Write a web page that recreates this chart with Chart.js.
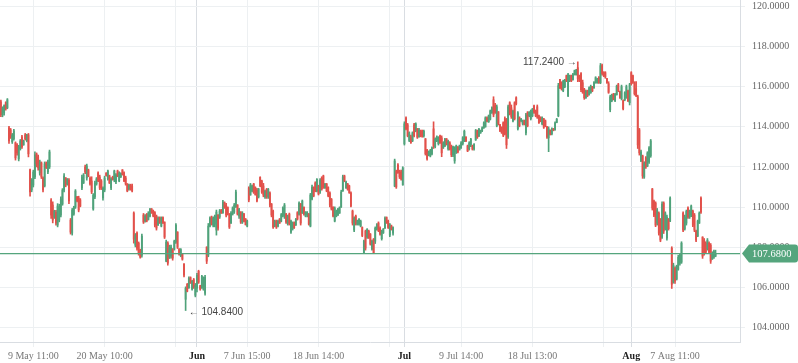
<!DOCTYPE html>
<html>
<head>
<meta charset="utf-8">
<script src="https://cdn.jsdelivr.net/npm/chart.js@4/dist/chart.umd.min.js"></script>
<style>
  html, body { margin: 0; padding: 0; background: #fff; }
  #wrap { width: 798px; height: 363px; }
</style>
</head>
<body>
<div id="wrap"><canvas id="chart"></canvas></div>
<script>
/* ── Data ─────────────────────────────────────────────── */
// one candle per entry: [open, high, low, close]
const ohlc = [
  [115.25,115.33,114.5,114.6],[114.6,115.0,114.5,114.95],[114.7,115.1,114.58,115.05],[115.2,115.25,114.83,114.9],[114.95,115.41,114.9,115.35],
  [113.95,114.03,113.17,113.3],[113.85,113.92,113.42,113.5],[113.25,113.67,113.17,113.6],[113.4,113.87,113.34,113.8],[113.2,113.25,112.34,112.45],
  [113.1,113.17,112.59,112.7],[112.4,113.08,112.3,113.0],[112.9,113.37,112.84,113.3],[113.5,113.58,112.92,113.0],[113.1,113.34,113.08,113.3],
  [113.6,113.67,113.34,113.4],[113.3,113.63,113.25,113.6],[113.6,113.67,112.5,112.65],[111.85,111.89,110.54,110.75],[110.85,111.42,110.76,111.35],
  [111.1,111.84,111.0,111.75],[111.5,112.75,111.42,112.6],[112.65,112.7,112.0,112.15],[112.5,112.59,111.84,111.95],[111.7,112.34,111.59,112.25],
  [112.2,112.25,111.42,111.5],[111.45,111.51,110.76,110.85],[111.05,112.25,111.0,112.15],[112.2,112.25,111.92,111.95],[111.75,112.34,111.67,112.25],
  [112.0,112.84,111.92,112.75],[110.35,110.42,109.43,109.6],[110.1,110.26,109.21,109.35],[109.5,109.84,109.43,109.8],[109.75,109.84,109.1,109.2],
  [109.1,110.17,109.01,110.05],[109.35,110.14,109.26,110.0],[109.6,110.51,109.51,110.4],[110.15,110.92,110.09,110.85],[110.85,111.67,110.76,111.55],
  [111.45,111.47,111.01,111.1],[111.15,111.42,111.09,111.4],[111.35,111.42,110.17,110.3],[109.35,109.43,108.65,108.75],[108.7,109.93,108.6,109.85],
  [109.65,110.04,109.59,110.0],[110.0,110.87,109.93,110.8],[110.5,110.54,110.26,110.3],[110.45,110.54,109.76,109.85],[110.35,110.42,110.01,110.05],
  [110.95,111.59,110.87,111.5],[111.2,111.67,111.17,111.6],[112.0,112.09,111.67,111.75],[111.45,112.14,111.34,112.05],[111.85,111.89,111.51,111.55],
  [111.45,111.51,111.09,111.15],[111.3,111.51,110.67,110.75],[109.9,110.67,109.84,110.6],[110.5,111.29,110.42,111.2],[111.15,111.47,111.09,111.4],
  [111.7,111.76,111.26,111.3],[111.5,111.59,110.87,110.95],[111.3,111.37,110.87,110.95],[110.45,111.01,110.34,110.95],[110.85,111.54,110.76,111.45],
  [111.7,111.71,111.54,111.57],[111.4,111.84,111.34,111.8],[111.55,111.59,111.17,111.2],[110.95,111.47,110.87,111.4],[111.5,111.54,111.34,111.38],
  [111.35,111.84,111.26,111.8],[111.25,111.67,111.17,111.6],[111.8,111.84,111.51,111.55],[111.3,111.76,111.26,111.7],[111.5,111.71,111.47,111.68],
  [111.85,111.87,111.59,111.62],[111.7,111.76,111.26,111.3],[111.45,111.54,111.09,111.15],[111.15,111.17,110.76,110.8],[110.9,111.14,110.84,111.1],
  [111.1,111.14,110.84,110.88],[111.05,111.14,110.76,110.8],[109.7,109.76,108.2,108.4],[108.1,108.68,108.01,108.6],[108.7,108.76,107.85,107.95],
  [108.2,108.26,107.6,107.7],[107.85,107.9,107.45,107.5],[107.6,108.65,107.5,108.55],[109.6,109.68,109.18,109.25],[109.3,109.62,109.25,109.55],
  [109.62,109.68,109.26,109.3],[109.38,109.77,109.35,109.7],[109.55,109.93,109.51,109.88],[109.9,109.93,109.68,109.72],[109.8,109.85,109.51,109.55],
  [109.72,109.77,109.01,109.1],[109.55,109.6,108.85,108.95],[109.1,109.51,109.08,109.45],[109.48,109.51,109.18,109.22],[109.05,109.51,109.01,109.45],
  [109.48,109.51,109.18,109.2],[109.25,109.26,108.43,108.5],[107.3,108.35,107.27,108.25],[108.2,108.27,107.1,107.2],[107.5,108.1,107.43,108.0],
  [107.55,108.1,107.45,108.0],[107.9,107.93,107.35,107.45],[107.9,108.35,107.85,108.3],[108.25,109.18,108.18,109.1],[108.75,108.77,107.93,108.0],
  [107.9,107.93,107.6,107.65],[107.58,107.93,107.52,107.88],[107.66,107.68,107.35,107.4],[107.15,107.18,106.52,106.6],[105.4,106.02,104.84,105.95],
  [106.15,106.19,105.77,105.8],[105.98,106.52,105.94,106.45],[106.48,106.52,106.19,106.22],[105.9,106.35,105.85,106.3],[106.38,106.44,105.94,106.0],
  [105.6,106.19,105.52,106.1],[105.95,106.69,105.77,106.6],[106.8,106.85,106.19,106.25],[106.08,106.1,105.85,105.9],[105.98,106.6,105.94,106.55],
  [105.9,106.52,105.85,106.45],[105.7,106.6,105.6,106.5],[108.0,108.02,107.18,107.3],[107.6,109.18,107.52,109.05],[109.05,109.51,109.01,109.45],
  [109.5,109.55,109.1,109.15],[109.1,109.51,109.01,109.45],[109.15,109.6,109.01,109.55],[108.85,109.85,108.6,109.75],[109.6,109.62,108.85,108.95],
  [109.5,109.88,109.43,109.8],[109.85,109.88,109.68,109.7],[109.72,110.34,109.68,110.25],[110.22,110.26,109.93,109.98],[110.1,110.18,109.51,109.6],
  [109.98,110.01,109.6,109.65],[109.65,109.68,108.93,109.0],[109.2,109.77,109.18,109.7],[109.65,110.01,109.6,109.95],[109.75,110.18,109.68,110.1],
  [110.0,110.84,109.98,110.75],[110.1,110.12,109.6,109.65],[109.55,109.93,109.43,109.88],[109.75,109.77,109.18,109.25],[109.25,109.77,109.18,109.7],
  [109.65,109.68,109.26,109.3],[109.4,109.43,109.1,109.12],[109.05,109.35,109.01,109.3],[110.95,111.01,110.26,110.35],[110.6,111.18,110.59,111.1],
  [110.8,111.09,110.76,111.05],[111.15,111.18,110.68,110.75],[110.98,111.01,110.59,110.62],[110.85,110.93,110.26,110.3],[110.5,110.93,110.45,110.9],
  [111.48,111.51,111.01,111.05],[111.3,111.34,110.68,110.75],[111.05,111.18,110.51,110.6],[110.5,110.84,110.43,110.8],[110.88,110.93,110.43,110.5],
  [110.5,110.93,110.43,110.88],[110.7,110.76,110.01,110.1],[110.15,110.18,109.51,109.6],[109.8,109.85,108.93,109.0],[109.05,109.35,109.01,109.3],
  [109.3,109.35,108.93,109.0],[109.05,109.35,109.01,109.3],[109.4,109.43,109.18,109.2],[109.3,109.68,109.26,109.62],[109.55,110.01,109.51,109.95],
  [109.6,110.18,109.43,110.1],[109.65,109.68,109.18,109.25],[109.2,109.6,109.1,109.55],[109.65,109.7,109.1,109.15],[108.75,109.35,108.68,109.3],
  [108.9,109.26,108.85,109.2],[109.22,109.26,108.93,108.97],[109.1,109.43,109.08,109.4],[109.72,109.77,109.35,109.4],[109.65,110.26,109.6,110.2],
  [110.15,110.18,109.1,109.2],[109.7,110.35,109.68,110.3],[109.98,110.01,109.6,109.65],[109.55,109.77,109.51,109.75],[109.6,109.77,109.51,109.72],
  [109.65,109.68,109.1,109.15],[109.05,110.68,109.01,110.6],[110.4,111.09,110.35,111.0],[110.98,111.01,110.51,110.55],[111.2,111.26,110.76,110.8],
  [110.8,111.42,110.76,111.38],[111.05,111.09,110.6,110.65],[110.75,111.42,110.68,111.35],[111.45,111.51,110.84,110.9],[111.55,111.59,110.93,111.0],
  [110.95,111.18,110.93,111.15],[111.15,111.18,110.76,110.8],[110.98,111.01,110.51,110.55],[110.7,110.76,110.01,110.1],[110.38,110.43,109.85,109.9],
  [110.0,110.01,109.51,109.55],[109.3,110.01,109.26,109.95],[109.55,109.85,109.51,109.8],[109.6,109.93,109.58,109.9],[109.7,110.01,109.68,109.98],
  [110.0,110.84,109.98,110.75],[110.8,111.59,110.78,111.5],[111.55,111.59,111.26,111.3],[110.95,111.3,110.93,111.25],[111.15,111.18,110.84,110.88],
  [111.05,111.09,110.68,110.72],[110.7,110.76,110.01,110.05],[109.8,109.85,109.1,109.2],[108.85,109.51,108.77,109.45],[109.55,109.6,109.1,109.15],
  [109.12,109.35,109.1,109.32],[109.15,109.43,109.1,109.4],[109.05,109.35,109.01,109.3],[108.98,109.01,108.52,108.58],[107.72,108.35,107.68,108.3],
  [108.8,108.85,107.85,107.95],[108.5,108.93,108.43,108.88],[108.8,108.85,108.43,108.48],[108.65,108.68,108.1,108.15],[107.9,108.35,107.85,108.3],
  [108.4,108.43,107.68,107.72],[108.3,109.01,108.18,108.95],[108.9,109.18,108.85,109.12],[109.2,109.26,108.77,108.82],[108.95,109.01,108.6,108.65],
  [108.42,108.85,108.35,108.8],[108.72,108.93,108.68,108.9],[108.95,109.51,108.93,109.45],[109.48,109.51,109.18,109.22],[109.3,109.35,108.93,108.98],
  [108.6,109.18,108.52,109.12],[109.05,109.1,108.85,108.88],[108.7,109.01,108.6,108.98],[111.05,112.39,111.01,112.3],[111.8,111.84,110.93,111.0],
  [112.1,112.17,111.68,111.72],[111.8,111.84,111.42,111.5],[111.75,111.84,111.34,111.4],[111.1,112.01,111.09,111.95],[113.15,114.25,113.09,114.15],
  [114.45,114.5,113.84,113.9],[114.1,114.17,113.5,113.55],[113.32,113.75,113.26,113.7],[113.5,113.59,113.17,113.22],[113.3,113.75,113.26,113.7],
  [114.1,114.17,113.5,113.55],[113.8,114.2,113.75,114.15],[113.9,113.92,113.42,113.48],[113.5,113.92,113.48,113.85],[113.8,113.84,113.5,113.55],
  [113.8,113.84,113.48,113.52],[113.55,113.84,113.48,113.78],[113.4,113.42,112.59,112.65],[112.85,112.88,112.34,112.4],[112.6,112.8,112.55,112.75],
  [112.55,112.88,112.5,112.82],[112.65,113.0,112.6,112.95],[113.9,114.25,112.92,113.05],[113.0,113.45,112.95,113.4],[113.3,113.55,113.26,113.5],
  [113.15,113.51,113.09,113.45],[113.55,113.59,113.17,113.2],[113.45,113.55,112.51,112.7],[112.95,113.26,112.92,113.2],[113.05,113.42,113.01,113.38],
  [113.4,113.42,113.09,113.12],[112.9,113.34,112.84,113.28],[113.2,113.26,112.84,112.9],[113.0,113.09,112.51,112.6],[112.6,113.04,112.51,113.0],
  [112.3,113.01,112.18,112.95],[112.75,113.09,112.67,113.05],[113.0,113.01,112.7,112.75],[112.85,113.09,112.84,113.05],[112.95,113.26,112.92,113.2],
  [113.15,113.51,113.09,113.45],[113.3,113.84,113.26,113.78],[113.48,113.51,113.26,113.3],[113.05,113.09,112.76,112.8],[112.9,113.26,112.84,113.2],
  [113.1,113.42,113.01,113.38],[113.05,113.09,112.84,112.88],[112.9,113.17,112.84,113.12],[113.35,113.87,113.32,113.82],[113.8,113.84,113.42,113.48],
  [113.55,113.92,113.51,113.88],[113.7,113.84,113.67,113.8],[113.8,114.0,113.76,113.95],[113.95,114.25,113.92,114.2],[114.0,114.5,113.98,114.45],
  [114.45,114.5,114.25,114.28],[114.25,114.59,114.22,114.55],[114.38,114.84,114.34,114.8],[114.7,115.0,114.67,114.95],[115.35,115.5,114.5,114.6],
  [115.05,115.17,114.67,114.72],[114.05,115.09,114.0,115.0],[114.75,114.76,114.09,114.15],[114.1,114.12,113.76,113.8],[113.98,114.0,113.67,113.72],
  [114.2,114.25,113.51,113.58],[114.4,114.5,113.59,113.65],[114.3,114.42,112.92,113.1],[113.5,115.09,113.42,115.0],[115.2,115.25,114.59,114.65],
  [114.95,115.09,114.42,114.5],[114.3,114.84,114.25,114.78],[115.2,115.25,114.34,114.4],[115.45,115.5,115.09,115.15],[113.9,114.76,113.84,114.7],
  [114.45,114.5,114.0,114.05],[114.3,114.42,114.25,114.38],[114.15,114.34,114.09,114.3],[114.3,114.34,114.09,114.12],[113.7,114.67,113.59,114.6],
  [114.7,114.76,114.0,114.05],[114.55,114.76,114.5,114.72],[114.4,114.84,114.34,114.8],[114.55,114.92,114.5,114.88],[115.05,115.09,114.67,114.72],
  [114.8,114.84,114.5,114.55],[115.0,115.09,114.42,114.48],[114.55,114.59,114.17,114.2],[114.48,114.5,114.25,114.28],[114.15,114.5,114.09,114.45],
  [114.4,114.42,113.92,113.98],[114.3,114.34,114.0,114.05],[114.0,114.02,113.42,113.48],[113.45,114.0,112.76,113.9],[113.82,113.85,113.59,113.62],
  [113.65,113.95,113.6,113.9],[113.9,113.92,113.8,113.84],[113.85,114.25,113.83,114.2],[114.22,114.42,114.2,114.38],[114.55,116.17,114.5,116.05],
  [116.35,116.37,115.9,115.95],[116.2,116.25,115.83,115.88],[115.8,116.33,115.75,116.28],[116.0,116.37,115.95,116.3],[116.55,116.58,116.25,116.3],
  [115.55,116.67,115.5,116.6],[116.3,116.58,116.25,116.55],[116.55,116.58,116.25,116.3],[116.35,116.67,116.33,116.62],[116.6,116.83,116.58,116.8],
  [116.6,116.87,116.58,116.82],[116.95,117.24,116.25,116.4],[116.55,116.58,116.25,116.3],[116.65,116.7,115.75,115.85],[116.2,116.33,115.67,115.72],
  [115.88,115.92,115.37,115.45],[115.45,115.83,115.42,115.78],[115.8,115.83,115.5,115.55],[115.6,116.0,115.58,115.95],[115.7,116.08,115.67,116.02],
  [116.0,116.02,115.75,115.8],[115.95,116.25,115.92,116.2],[116.2,116.5,116.17,116.45],[116.2,116.42,116.17,116.38],[116.45,116.5,116.17,116.2],
  [116.2,117.16,116.15,117.05],[117.05,117.13,116.58,116.65],[116.72,116.75,116.5,116.55],[116.7,116.75,116.42,116.48],[116.4,116.42,116.17,116.2],
  [116.15,116.25,115.67,115.72],[114.85,115.58,114.75,115.5],[115.3,115.63,115.25,115.58],[115.62,115.67,115.34,115.38],[115.3,115.67,115.25,115.62],
  [115.6,116.08,115.58,116.02],[116.1,116.17,115.75,115.8],[115.75,115.78,115.42,115.45],[115.4,116.08,115.34,116.0],[115.3,115.34,114.84,114.9],
  [115.35,115.75,115.3,115.7],[115.45,116.08,115.42,116.0],[115.8,115.83,115.25,115.3],[115.2,116.17,115.09,116.1],[116.7,116.75,116.08,116.15],
  [116.55,116.58,116.17,116.22],[116.2,116.25,115.58,115.65],[115.9,116.25,115.5,115.55],[115.5,115.58,112.92,113.1],[113.85,113.92,112.59,112.7],
  [112.3,112.84,112.26,112.75],[112.55,112.59,111.43,111.55],[111.5,112.26,111.43,112.2],[112.45,112.51,111.93,112.0],[112.05,112.76,112.01,112.7],
  [112.25,113.01,112.18,112.95],[112.55,113.37,112.48,113.3],[110.9,110.93,109.85,109.95],[110.3,110.35,109.52,109.6],[110.2,110.26,109.02,109.1],
  [109.2,109.93,109.1,109.85],[109.7,109.76,108.6,108.7],[109.35,109.43,108.27,108.35],[108.5,110.26,108.43,110.15],[110.2,110.26,108.68,108.8],
  [108.9,109.76,108.85,109.7],[108.45,109.6,108.35,109.5],[109.4,109.43,108.85,108.92],[109.3,110.51,109.27,110.45],[107.95,108.02,105.94,106.15],
  [106.25,107.2,106.2,107.1],[106.95,107.02,106.19,106.3],[106.4,107.1,106.36,107.05],[106.9,107.6,106.85,107.5],[107.2,107.69,107.1,107.62],
  [107.25,108.27,107.19,108.2],[109.7,109.76,108.77,108.85],[108.9,109.6,108.85,109.5],[109.2,109.85,109.1,109.78],[109.95,110.01,109.43,109.5],
  [109.5,109.85,109.43,109.8],[109.6,110.1,109.52,110.05],[109.8,109.85,109.02,109.1],[109.6,109.68,108.77,108.85],[108.8,108.85,108.27,108.35],
  [108.55,109.35,108.52,109.3],[109.2,109.76,109.18,109.7],[110.45,110.51,109.68,109.75],[108.5,108.52,107.44,107.55],[108.35,108.43,107.6,107.7],
  [108.2,108.27,107.69,107.75],[107.9,108.43,107.85,108.35],[108.2,108.27,107.69,107.75],[108.1,108.18,107.19,107.3],[107.4,107.77,107.39,107.7],
  [107.5,107.85,107.44,107.78],[107.55,107.85,107.52,107.68]
];

// bottom axis: candle index of each tick and its label
const tickIndex  = [20, 64, 108, 121, 152, 196, 240, 249, 284, 328, 372, 389, 416];
const tickLabels = ['9 May 11:00', '20 May 10:00', '', 'Jun', '7 Jun 15:00', '18 Jun 14:00', '', 'Jul',
                    '9 Jul 14:00', '18 Jul 13:00', '', 'Aug', '7 Aug 11:00'];
const monthTicks = ['Jun', 'Jul', 'Aug'];

const priceTicks = [104, 106, 108, 110, 112, 114, 116, 118, 120];
const lastPrice  = 107.68;

/* ── Style ────────────────────────────────────────────── */
const UP    = '#4fa27a';
const DOWN  = '#e2504a';
const TAG   = '#55a57d';
const GRID  = '#edf0f2';
const GRID2 = '#d9dde2';
const SERIF = "'Liberation Serif', 'DejaVu Serif', serif";
const SANS  = "'Liberation Sans', Arial, sans-serif";

const isMonth = i => monthTicks.includes(tickLabels[i]);
const colors  = ohlc.map(c => c[3] >= c[0] ? UP : DOWN);

/* ── Markers + last price tag ─────────────────────────── */
const overlay = {
  id: 'overlay',
  afterDatasetsDraw(chart) {
    const { ctx, scales: { x, y } } = chart;
    let hi = 0, lo = 0;
    ohlc.forEach((c, i) => {
      if (c[1] > ohlc[hi][1]) hi = i;
      if (c[2] < ohlc[lo][2]) lo = i;
    });
    ctx.save();
    ctx.font = '10px ' + SANS;
    ctx.fillStyle = '#444';
    ctx.textBaseline = 'middle';
    ctx.textAlign = 'right';
    ctx.fillText(ohlc[hi][1].toFixed(4) + ' \u2192', x.getPixelForValue(hi) - 1, y.getPixelForValue(ohlc[hi][1]));
    ctx.textAlign = 'left';
    ctx.fillText('\u2190 ' + ohlc[lo][2].toFixed(4), x.getPixelForValue(lo) + 3, y.getPixelForValue(ohlc[lo][2]) + 1.5);
    ctx.restore();
  },
  afterDraw(chart) {
    const { ctx, chartArea, scales: { y } } = chart;
    const py = y.getPixelForValue(lastPrice);
    const l = chartArea.right + 2, r = chart.width, h = 9, rad = 3;
    ctx.save();
    ctx.fillStyle = TAG;
    ctx.beginPath();
    ctx.moveTo(l, py);
    ctx.lineTo(l + 7, py - h);
    ctx.lineTo(r - rad, py - h);
    ctx.arcTo(r, py - h, r, py - h + rad, rad);
    ctx.lineTo(r, py + h - rad);
    ctx.arcTo(r, py + h, r - rad, py + h, rad);
    ctx.lineTo(l + 7, py + h);
    ctx.closePath();
    ctx.fill();
    ctx.fillStyle = '#fff';
    ctx.font = '10.5px ' + SERIF;
    ctx.textBaseline = 'middle';
    ctx.fillText(lastPrice.toFixed(4), chartArea.right + 12, py + 0.5);
    ctx.restore();
  }
};

/* ── Chart ────────────────────────────────────────────── */
new Chart(document.getElementById('chart'), {
  type: 'bar',
  data: {
    datasets: [
      {
        type: 'line',
        data: [{ x: -0.55, y: lastPrice }, { x: 456.1, y: lastPrice }],
        borderColor: TAG,
        borderWidth: 1.2,
        pointRadius: 0,
      },
      {
        data: ohlc.map((c, i) => ({ x: i, y: [c[0], c[3]] })),
        backgroundColor: colors,
        barThickness: 1.2,
        minBarLength: 1,
        grouped: false,
      },
      {
        data: ohlc.map((c, i) => ({ x: i, y: [c[2], c[1]] })),
        backgroundColor: colors,
        barThickness: 1,
        grouped: false,
      }
    ]
  },
  options: {
    responsive: true,
    maintainAspectRatio: false,
    animation: false,
    layout: { padding: 0, autoPadding: false },
    plugins: { legend: { display: false }, tooltip: { enabled: false } },
    scales: {
      x: {
        type: 'linear',
        min: -0.55,
        max: 456.1,
        offset: false,
        afterBuildTicks: s => { s.ticks = tickIndex.map(v => ({ value: v })); },
        afterFit: s => { s.height = 21; s.paddingLeft = 0; s.paddingRight = 0; },
        grid: {
          offset: false,
          tickLength: 5,
          color: c => isMonth(c.index) ? GRID2 : GRID,
        },
        border: { color: GRID2 },
        ticks: {
          autoSkip: false,
          maxRotation: 0,
          padding: 3,
          callback: (v, i) => tickLabels[i],
          font: c => ({ family: SERIF, size: 10, weight: isMonth(c.index) ? 'bold' : 'normal' }),
          color: c => isMonth(c.index) ? '#222' : '#777',
        }
      },
      y: {
        position: 'right',
        min: 103.27,
        max: 120.324,
        beginAtZero: false,
        afterBuildTicks: s => { s.ticks = priceTicks.map(v => ({ value: v })); },
        afterFit: s => { s.width = 58; s.paddingTop = 0; s.paddingBottom = 0; },
        grid: { color: GRID, tickLength: 5 },
        border: { color: GRID2 },
        ticks: {
          padding: 7,
          callback: v => v.toFixed(4),
          font: { family: SERIF, size: 10 },
          color: '#666',
        }
      }
    }
  },
  plugins: [overlay]
});
</script>
</body>
</html>
